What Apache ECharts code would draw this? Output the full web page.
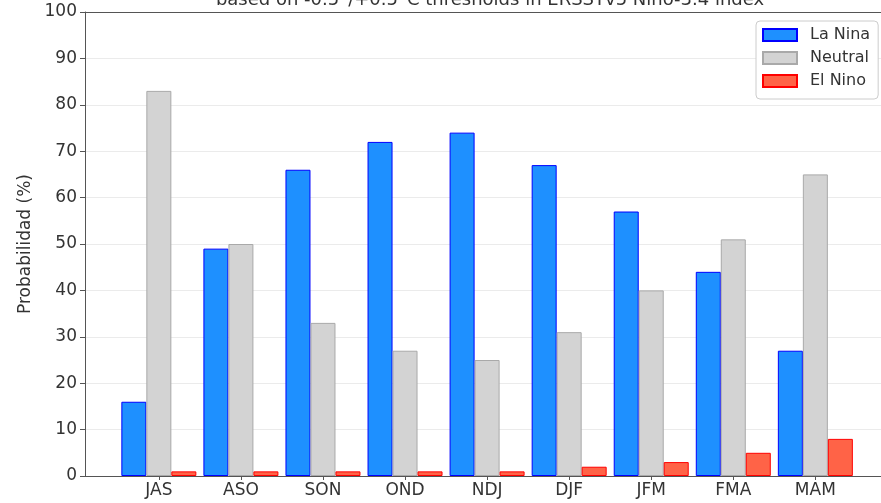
<!DOCTYPE html>
<html>
<head>
<meta charset="utf-8">
<script src="https://cdn.jsdelivr.net/npm/echarts@6/dist/echarts.min.js"></script>
<style>html,body{margin:0;padding:0;background:#fff}#c{width:881px;height:503px}</style>
</head>
<body>
<div id="c"></div>
<script>
const categories = ['JAS','ASO','SON','OND','NDJ','DJF','JFM','FMA','MAM'];
const laNina  = [16, 49, 66, 72, 74, 67, 57, 44, 27];
const neutral = [83, 50, 33, 27, 25, 31, 40, 51, 65];
const elNino  = [1, 1, 1, 1, 1, 2, 3, 5, 8];
const titleText = 'based on -0.5°/+0.5°C thresholds in ERSSTv5 Nino-3.4 index';
const yName = 'Probabilidad (%)';

const positions = categories.map((c, i) => i);
const toPairs = arr => arr.map((v, i) => [positions[i], v]);
const font = 'DejaVu Sans';
const txt = '#333';

const chart = echarts.init(document.getElementById('c'));
chart.setOption({
  animation: false,
  title: {
    text: titleText, left: 485, textAlign: 'center', top: -14,
    textStyle: {fontFamily: font, fontSize: 18, fontWeight: 'normal', color: txt}
  },
  legend: {
    orient: 'vertical', left: 756, top: 21,
    itemWidth: 34, itemHeight: 12, itemGap: 5,
    padding: [5, 8, 9, 6],
    borderColor: '#cccccc', borderWidth: 1, borderRadius: 4, backgroundColor: '#fff',
    textStyle: {fontFamily: font, fontSize: 16, color: txt, lineHeight: 18, padding: [0, 0, 0, 8]},
    icon: 'rect'
  },
  grid: {left: 85, right: 0, top: 12, bottom: 27},
  xAxis: [{
    type: 'value', min: -0.9, max: 8.8,
    axisLine: {show: true, onZero: false, lineStyle: {color: '#555', width: 1}},
    axisTick: {show: true, length: 4, lineStyle: {color: '#555'}, customValues: positions},
    axisLabel: {
      customValues: positions, margin: 6,
      formatter: v => categories[Math.round(v)] || '',
      fontFamily: font, fontSize: 17, color: txt
    },
    splitLine: {show: false}
  }, {
    type: 'value', position: 'top', min: -0.9, max: 8.8,
    axisLine: {show: true, onZero: false, lineStyle: {color: '#555', width: 1}},
    axisTick: {show: false}, axisLabel: {show: false}, splitLine: {show: false}
  }],
  yAxis: {
    type: 'value', min: 0, max: 100, interval: 10,
    name: yName, nameLocation: 'middle', nameGap: 50,
    nameTextStyle: {fontFamily: font, fontSize: 17, color: txt},
    axisLine: {show: true, onZero: false, lineStyle: {color: '#555', width: 1}},
    axisTick: {show: true, length: 5, lineStyle: {color: '#555'}},
    axisLabel: {fontFamily: font, fontSize: 17, color: txt, margin: 8},
    splitLine: {show: true, lineStyle: {color: '#ebebeb', width: 1}}
  },
  series: [
    {name: 'La Nina', type: 'bar', data: toPairs(laNina), barWidth: 25, barGap: '0%',
     itemStyle: {color: '#1e90ff', borderColor: '#0000ff', borderWidth: 1}},
    {name: 'Neutral', type: 'bar', data: toPairs(neutral), barWidth: 25, barGap: '0%',
     itemStyle: {color: '#d3d3d3', borderColor: '#a9a9a9', borderWidth: 1}},
    {name: 'El Nino', type: 'bar', data: toPairs(elNino), barWidth: 25, barGap: '0%',
     itemStyle: {color: '#ff6347', borderColor: '#ff0000', borderWidth: 1}}
  ]
});
</script>
</body>
</html>
